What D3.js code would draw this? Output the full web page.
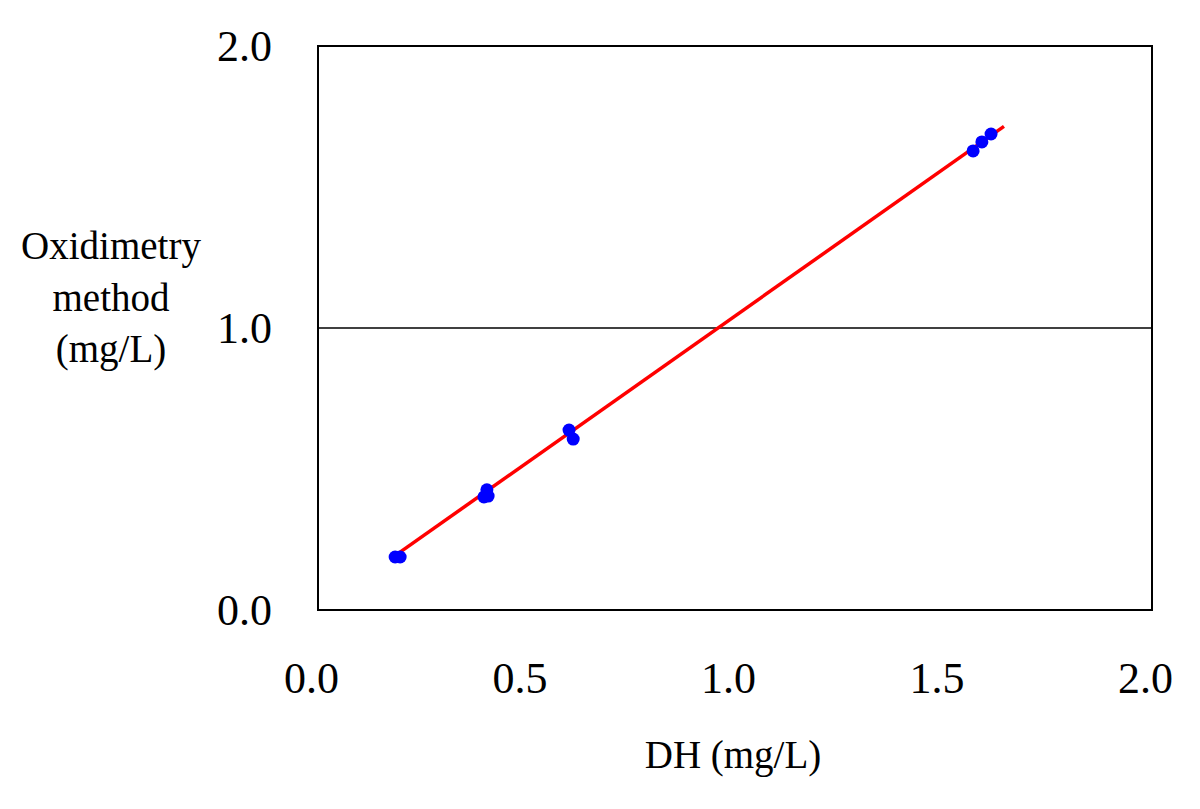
<!DOCTYPE html>
<html>
<head>
<meta charset="utf-8">
<script src="https://cdn.jsdelivr.net/npm/d3@7"></script>
<style>
  html, body { margin: 0; padding: 0; background: #fff; }
  svg { display: block; }
  text { font-family: "Liberation Serif", "DejaVu Serif", serif; fill: #000; }
</style>
</head>
<body>
<svg id="chart" width="1200" height="809"></svg>
<script>
// Data
const dhValues = [0.185, 0.197, 0.398, 0.405, 0.408, 0.602, 0.612, 1.571, 1.592, 1.614];
const oxValues = [0.188, 0.188, 0.401, 0.426, 0.404, 0.638, 0.606, 1.628, 1.660, 1.688];
const fitX = [0.19, 1.645];
const fitY = [0.198, 1.715];
const xTicks = [0.0, 0.5, 1.0, 1.5, 2.0];
const yTicks = [0.0, 1.0, 2.0];
const gridValues = [1.0];
const yTitleLines = ["Oxidimetry", "method", "(mg/L)"];
const xTitle = "DH (mg/L)";

(function () {
const svg = d3.select("#chart");
const pLeft = 318, pRight = 1152, pTop = 46, pBottom = 610;

const x = d3.scaleLinear().domain([0, 2]).range([pLeft, pRight]);
const y = d3.scaleLinear().domain([0, 2]).range([pBottom, pTop]);

// gridline
svg.selectAll("line.grid").data(gridValues).enter().append("line")
  .attr("class", "grid")
  .attr("x1", pLeft).attr("x2", pRight)
  .attr("y1", d => y(d)).attr("y2", d => y(d))
  .attr("stroke", "#000").attr("stroke-width", 1.7);

// frame
svg.append("rect")
  .attr("x", pLeft).attr("y", pTop)
  .attr("width", pRight - pLeft).attr("height", pBottom - pTop)
  .attr("fill", "none").attr("stroke", "#000").attr("stroke-width", 2);

// x axis (labels only)
const xAxis = d3.axisBottom(x).tickValues(xTicks).tickFormat(d3.format(".1f")).tickSize(0).tickPadding(0);
const gx = svg.append("g").attr("transform", `translate(-7,${pBottom})`).call(xAxis);
gx.select(".domain").remove();
gx.selectAll("text")
  .attr("y", 83).attr("dy", null)
  .style("font-family", '"Liberation Serif", serif')
  .style("font-size", "44px").attr("fill", "#000");

// y axis (labels only)
const yAxis = d3.axisLeft(y).tickValues(yTicks).tickFormat(d3.format(".1f")).tickSize(0).tickPadding(0);
const gy = svg.append("g").attr("transform", `translate(${pLeft},0)`).call(yAxis);
gy.select(".domain").remove();
gy.selectAll("text")
  .attr("x", -46).attr("dy", "0.34em")
  .style("font-family", '"Liberation Serif", serif')
  .style("font-size", "44px").attr("fill", "#000");

// fit line
const lineData = fitX.map((v, i) => [v, fitY[i]]);
svg.append("path")
  .datum(lineData)
  .attr("d", d3.line().x(d => x(d[0])).y(d => y(d[1])))
  .attr("stroke", "#ff0000").attr("stroke-width", 3.5).attr("fill", "none");

// points
svg.selectAll("circle.pt").data(dhValues).enter().append("circle")
  .attr("class", "pt")
  .attr("cx", d => x(d))
  .attr("cy", (d, i) => y(oxValues[i]))
  .attr("r", 6.5)
  .attr("fill", "#0000ff");

// y title
svg.append("text")
  .attr("x", 111).attr("text-anchor", "middle")
  .style("font-size", "39px")
  .selectAll("tspan").data(yTitleLines).enter().append("tspan")
  .attr("x", 111)
  .attr("y", (d, i) => 259 + i * 51.5)
  .text(d => d);

// x title
svg.append("text")
  .attr("x", 733).attr("y", 768)
  .attr("text-anchor", "middle")
  .style("font-size", "39px")
  .text(xTitle);
})();
</script>
</body>
</html>
